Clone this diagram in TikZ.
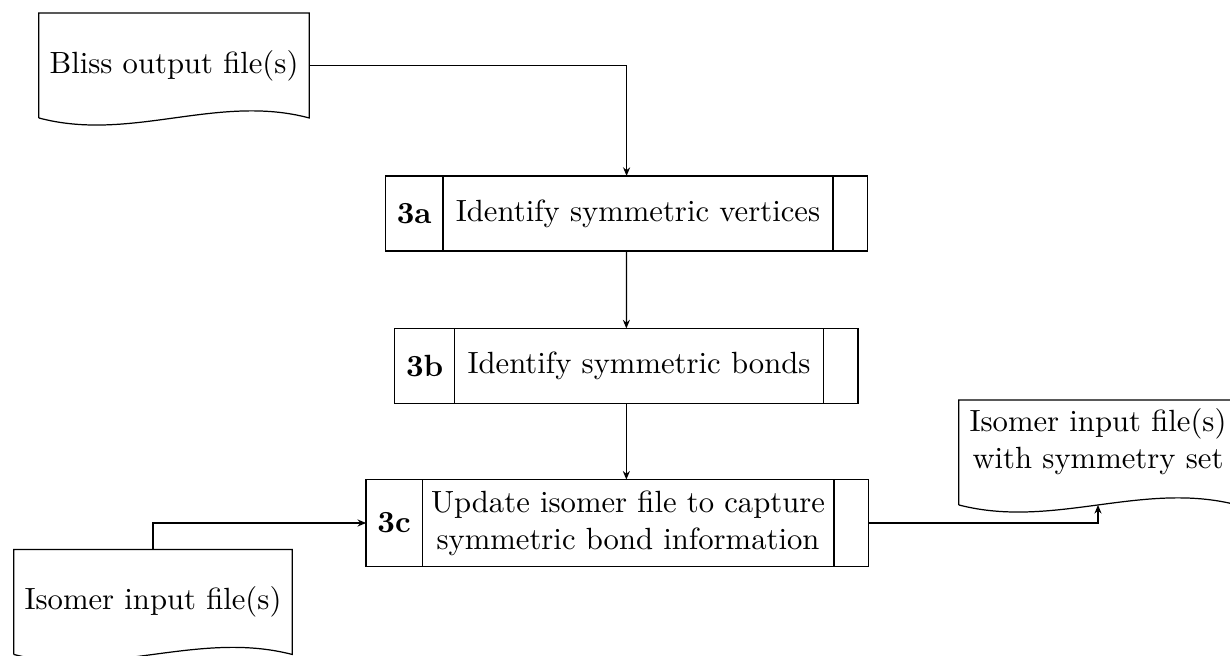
\documentclass[tikz,border=0pt]{standalone}
\usepackage{fontspec}
\usetikzlibrary{arrows.meta,calc,fit}

\tikzset{
  cell/.style={draw, outer sep=0pt, inner xsep=3.7pt, inner ysep=3.7pt, align=center},
  stepnum/.style={cell, font=\bfseries},
  stepend/.style={cell, minimum width=11.3pt},
  stepframe/.style={inner sep=0pt, outer sep=0pt},
  docnode/.style={outer sep=0pt, inner xsep=3.5pt, inner ysep=3.33pt, minimum height=34.2pt},
  docline/.style={draw, line join=miter},
  flow/.style={-{Stealth[length=2.8pt,width=2.3pt]}},
}

% a process step: number cell, text cell and an empty closing cell
% [#1] side padding of the text cell, #2 name, #3 position of the text cell,
% #4 number, #5 text, #6 height
\newcommand\processstep[6][4.2pt]{%
  \node[cell, minimum height=#6, inner xsep=#1] (#2-txt) at #3 {#5};
  \node[stepnum, minimum height=#6, anchor=east] (#2-num) at (#2-txt.west) {#4};
  \node[stepend, minimum height=#6, anchor=west] (#2-end) at (#2-txt.east) {};
  \node[stepframe, fit=(#2-num)(#2-end)] (#2) {};
}

% document symbol: box with a wavy lower edge
\newcommand\docoutline[1]{%
  \draw[docline] (#1.south west) -- (#1.north west) -- (#1.north east) -- (#1.south east)
    .. controls ($(#1.south east)!0.34!(#1.south west)+(0,8pt)$)
    and ($(#1.south east)!0.66!(#1.south west)+(0,-8pt)$) .. (#1.south west);}

\begin{document}
\begin{tikzpicture}[x=0.326pt, y=-0.326pt, line width=0.4pt]
  \useasboundingbox (0,0) rectangle (1230,656);
  \clip (0,0) rectangle (1230,656);

  % data files
  \node[docnode] (bliss) at (174,65.5) {Bliss output file(s)};
  \node[docnode] (isoin) at (153,602) {Isomer input file(s)};
  \node[docnode, inner ysep=2pt, text depth=15.7pt] (isoout) at (1098,452.5)
    {\begin{tabular}{@{}c@{}}Isomer input file(s)\\with symmetry set\end{tabular}};
  \docoutline{bliss}
  \docoutline{isoin}
  \docoutline{isoout}

  % process steps
  \processstep{s3a}{(638,213.5)}{3a}{Identify symmetric vertices}{24.5pt}
  \processstep{s3b}{(639,366)}{3b}{Identify symmetric bonds}{24.5pt}
  \processstep[2.9pt]{s3c}{(628,523)}{3c}{Update isomer file to capture\\symmetric bond information}{28.3pt}

  % flow
  \draw[flow] (bliss.east) -| (s3a.north);
  \draw[flow] (s3a.south) -- (s3b.north);
  \draw[flow] (s3b.south) -- (s3b.south |- s3c.north);
  \draw[flow] (isoin.north) |- (s3c.west);
  \draw[flow] (s3c.east) -| (isoout.south);
\end{tikzpicture}
\end{document}
